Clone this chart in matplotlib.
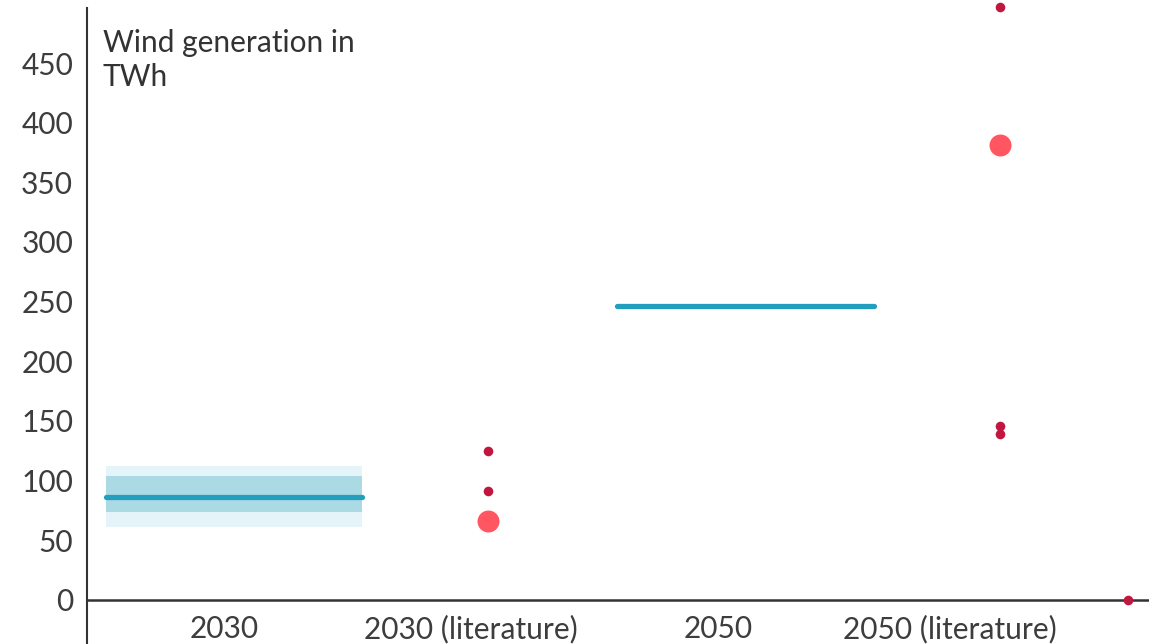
import matplotlib.pyplot as plt
import numpy as np

plt.rcParams['font.family'] = ['Lato', 'DejaVu Sans']

# categories along the x axis
categories = ['2030', '2030 (literature)', '2050', '2050 (literature)']

# model results (median and uncertainty bands), in TWh
model_pos = [0.04, 2.11]
model_median = [86, 246]
inner_lo = [74, None]
inner_hi = [104, None]
outer_lo = [61, None]
outer_hi = [112, None]

# literature values, in TWh
lit_x = [1.07, 1.07, 3.14, 3.14, 3.14, 3.66]
lit_small = [125, 91, 497, 146, 139, 0]
lit_main_x = [1.07, 3.14]
lit_main = [66, 381]

fig = plt.figure(figsize=(11.63, 6.44), dpi=100)
ax = fig.add_axes([87 / 1163, 0, (1149 - 87) / 1163, 1])

half = 0.52
for i, x in enumerate(model_pos):
    if outer_lo[i] is not None:
        ax.fill_between([x - half, x + half], outer_lo[i], outer_hi[i],
                        color='#e5f4f8', lw=0, zorder=1)
        ax.fill_between([x - half, x + half], inner_lo[i], inner_hi[i],
                        color='#abdae4', lw=0, zorder=2)
    ax.plot([x - half, x + half], [model_median[i]] * 2, color='#229fbf',
            lw=3.8, solid_capstyle='round', zorder=3)

ax.scatter(lit_x, lit_small, s=48, color='#c0163f', zorder=4,
           lw=0, clip_on=False)
ax.scatter(lit_main_x, lit_main, s=250, color='#ff5662', zorder=4,
           lw=0, clip_on=False)

ax.axhline(0, color='#333333', lw=1.8, zorder=0)

ax.set_xlim(-0.555, 3.745)
ax.set_ylim(-36.9, 502.8)
ax.set_yticks(np.arange(0, 451, 50))
ax.tick_params(axis='y', length=0, labelsize=21.5, labelcolor='#3d3d3d', pad=10)
ax.set_xticks([])

label_x = [0, 1, 2, 2.94]
for lx, lab in zip(label_x, categories):
    ax.text(lx, -24, lab, ha='center', va='center', fontsize=21.5,
            color='#3d3d3d')

for s in ['top', 'right', 'bottom']:
    ax.spines[s].set_visible(False)
ax.spines['left'].set_color('#333333')
ax.spines['left'].set_linewidth(1.5)
ax.spines['left'].set_bounds(-40, 496)

ax.text(0.015, 0.955, 'Wind generation in\nTWh', transform=ax.transAxes,
        ha='left', va='top', fontsize=21.5, color='#333333', linespacing=1.25)

fig.savefig('out.png', dpi=100)
